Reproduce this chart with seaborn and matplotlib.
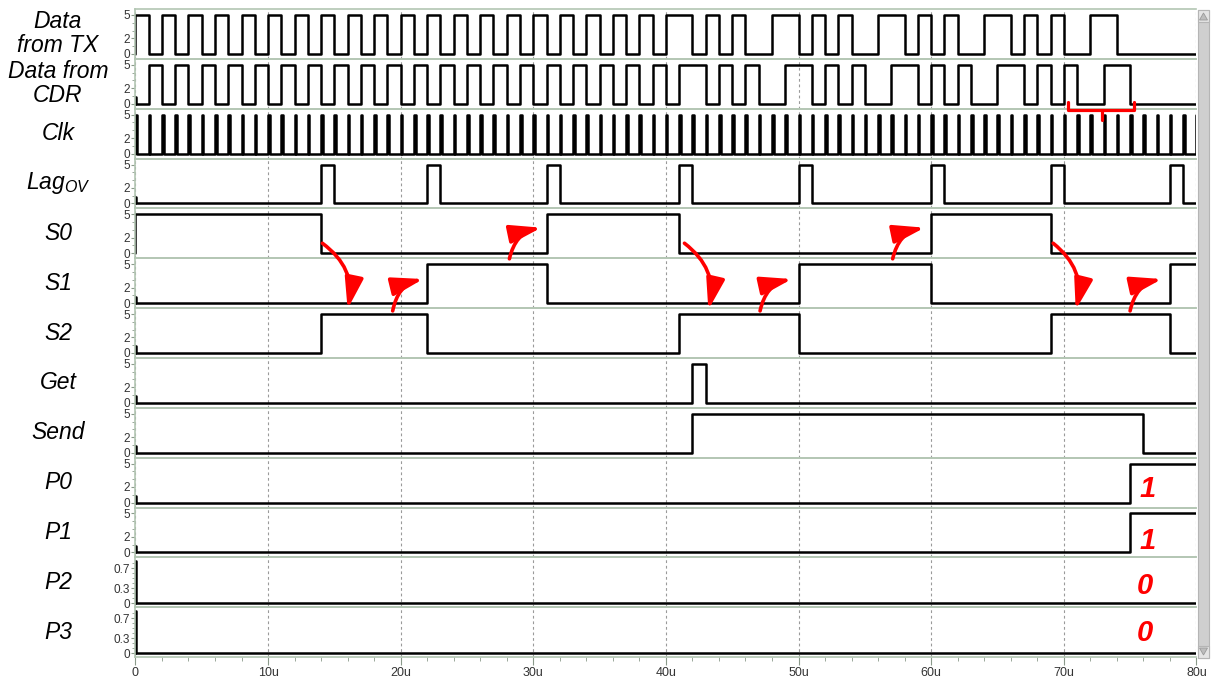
import matplotlib
matplotlib.use("Agg")
import matplotlib.pyplot as plt
import seaborn as sns
from matplotlib.patches import FancyArrowPatch, Rectangle, Polygon
from matplotlib.lines import Line2D

sns.set_theme(style="white")
plt.rcParams["font.family"] = ["Liberation Sans", "DejaVu Sans"]
plt.rcParams["mathtext.fontset"] = "custom"
plt.rcParams["mathtext.rm"] = "Liberation Sans"
plt.rcParams["mathtext.it"] = "Liberation Sans:italic"

# ---------------------------------------------------------------- data
T_END = 80.0          # simulation length (us)
HIGH = 5.0            # logic high level (V)
SPIKE = 0.85          # start-up glitch level (V)

row_labels = ["Data\nfrom TX", "Data from\nCDR", "Clk", "Lag$_{OV}$", "S0", "S1",
              "S2", "Get", "Send", "P0", "P1", "P2", "P3"]

# serial data, one bit per microsecond
tx_bits = [1, 0, 1, 0, 1, 0, 1, 0, 1, 0, 1, 0, 1, 0, 1, 0, 1, 0, 1, 0,
           1, 0, 1, 0, 1, 0, 1, 0, 1, 0, 1, 0, 1, 0, 1, 0, 1, 0, 1, 0,
           1, 1, 0, 1, 0, 1, 0, 0, 1, 1, 0, 1, 0, 1, 0, 0,
           1, 1, 0, 1, 0, 1, 0, 0, 1, 1, 0, 1, 0, 1, 0, 0,
           1, 1, 0, 0, 0, 0, 0, 0]
cdr_bits = [0, 1, 0, 1, 0, 1, 0, 1, 0, 1, 0, 1, 0, 1, 0, 1, 0, 1, 0, 1, 0,
            1, 0, 1, 0, 1, 0, 1, 0, 1, 0, 1, 0, 1, 0, 1, 0, 1, 0, 1, 0,
            1, 1, 0, 1, 0, 1, 0, 0, 1, 1, 0, 1, 0, 1, 0, 0,
            1, 1, 0, 1, 0, 1, 0, 0, 1, 1, 0, 1, 0, 1, 0, 0,
            1, 1, 0, 0, 0, 0, 0]

# recovered clock: short pulse at every rising edge (us)
clk_rise = [0, 1, 2, 3, 4, 5, 6, 7, 8, 9, 10, 11, 12, 13, 14, 15, 16, 17, 18, 19,
            20, 21, 22, 23, 24, 25, 26, 27, 28, 29, 30, 31, 32, 33, 34, 35, 36, 37, 38, 39,
            40, 41, 42, 43, 44, 45, 46, 47, 48, 49, 50, 51, 52, 53, 54, 55, 56, 57, 58, 59,
            60, 61, 62, 63, 64, 65, 66, 67, 68, 69, 70, 71, 72, 73, 74, 75, 76, 77, 78, 79, 80]
CLK_W = 0.12

# control signals: times (us) at which the level changes, and the new level (V)
lag_t = [0, 0.05, 14, 15, 22, 23, 31, 32, 41, 42, 50, 51, 60, 61, 69, 70, 78, 79]
lag_v = [0.85, 0, 5, 0, 5, 0, 5, 0, 5, 0, 5, 0, 5, 0, 5, 0, 5, 0]
s0_t = [0, 14, 31, 41, 60, 69]
s0_v = [5, 0, 5, 0, 5, 0]
s1_t = [0, 0.05, 22, 31, 50, 60, 78]
s1_v = [0.85, 0, 5, 0, 5, 0, 5]
s2_t = [0, 0.05, 14, 22, 41, 50, 69, 78]
s2_v = [0.85, 0, 5, 0, 5, 0, 5, 0]
get_t = [0, 0.05, 42, 43]
get_v = [0.85, 0, 5, 0]
send_t = [0, 0.05, 42, 76]
send_v = [0.85, 0, 5, 0]
p0_t = [0, 0.05, 75]
p0_v = [0.85, 0, 5]
p1_t = [0, 0.05, 75]
p1_v = [0.85, 0, 5]
p2_t = [0, 0.05]
p2_v = [0.85, 0]
p3_t = [0, 0.05]
p3_v = [0.85, 0]

# decoded output bits written next to P0..P3
out_bits = ["1", "1", "0", "0"]
out_bit_t = [76.3, 76.3, 76.1, 76.1]
out_bit_y = [0.37, 0.33, 0.43, 0.48]

# state-transition arrows (time, level on the S1 row)
arrow_t0 = [14.1, 19.4, 28.2, 41.4, 47.1, 57.1, 69.2, 75.0]
arrow_v0 = [7.7, -1.0, 5.7, 7.7, -1.0, 5.7, 7.7, -1.0]
arrow_t1 = [16.0, 21.7, 30.6, 43.2, 49.5, 59.5, 70.9, 77.4]
arrow_v1 = [-0.75, 3.1, 9.7, -0.85, 3.1, 9.7, -0.85, 3.1]

# bracket marking the last recovered word on the CDR row
bracket_t = [70.35, 75.26]
bracket_mid = 72.87
bracket_v = [0.26, -0.81, -2.09]


def bits_wave(bits, spike=False):
    t, v = [0.0], [0.0]
    if spike:
        t += [0.0, 0.05]
        v += [SPIKE, 0.0]
    for i, b in enumerate(bits):
        if spike and i == 0:
            continue
        t.append(float(i))
        v.append(b * HIGH)
    t.append(T_END)
    v.append(v[-1])
    return t, v


def edge_wave(times, levels):
    t = [0.0] + list(times) + [T_END]
    v = [0.0] + list(levels) + [levels[-1]]
    return t, v


def clock_wave(rises, width):
    t, v = [0.0], [0.0]
    for r in rises:
        t += [r, r + width]
        v += [HIGH, 0.0]
    return t, v


waves = [
    bits_wave(tx_bits),
    bits_wave(cdr_bits, spike=True),
    clock_wave(clk_rise, CLK_W),
    edge_wave(lag_t, lag_v),
    edge_wave(s0_t, s0_v),
    edge_wave(s1_t, s1_v),
    edge_wave(s2_t, s2_v),
    edge_wave(get_t, get_v),
    edge_wave(send_t, send_v),
    edge_wave(p0_t, p0_v),
    edge_wave(p1_t, p1_v),
    edge_wave(p2_t, p2_v),
    edge_wave(p3_t, p3_v),
]
small_scale = [False] * 11 + [True, True]

# ---------------------------------------------------------------- layout
W, H = 1211, 680
X0, X1 = 135.4, 1196.4
Y_TOP, ROW_H = 9.0, 49.85
FRAME = "#b3c6b3"
GRID = "#9a9a9a"

fig = plt.figure(figsize=(W / 100, H / 100), dpi=100)
fig.patch.set_facecolor("white")

axes = []
for i, ((t, v), lab) in enumerate(zip(waves, row_labels)):
    top = Y_TOP + i * ROW_H
    ax = fig.add_axes([X0 / W, 1 - (top + ROW_H) / H, (X1 - X0) / W, ROW_H / H],
                      sharex=axes[0] if axes else None)
    ax.set_facecolor("none")
    sns.lineplot(x=t, y=v, ax=ax, color="black", lw=1.8, sort=False,
                 estimator=None, drawstyle="steps-post")
    ax.set_xlim(0, T_END)
    if small_scale[i]:
        ax.set_ylim(-0.08, 0.92)
        ax.set_yticks([0, 0.3, 0.7])
        ax.set_yticklabels(["0", "0.3", "0.7"])
        ax.set_yticks([0.1, 0.2, 0.4, 0.5, 0.6, 0.8], minor=True)
    else:
        ax.set_ylim(-0.64, 5.77)
        ax.set_yticks([0, 2, 5])
        ax.set_yticklabels(["0", "2", "5"])
        ax.set_yticks([1, 3, 4], minor=True)
    ax.set_xticks(range(0, 81, 10))
    ax.set_xticks(range(0, 81, 2), minor=True)
    ax.grid(False)
    ax.grid(axis="x", which="major", color=GRID, ls=(0, (2.5, 2.5)), lw=0.8)
    ax.set_axisbelow(True)
    last = i == len(waves) - 1
    ax.tick_params(axis="y", which="major", direction="out", length=3, width=0.8,
                   color="#8a9a8a", labelsize=8.5, labelcolor="#333333", pad=1, left=True)
    ax.tick_params(axis="y", which="minor", direction="out", length=2, width=0.6,
                   color="#8a9a8a", left=True)
    ax.tick_params(axis="x", which="major", direction="out", length=6, width=0.8,
                   color="#8a9a8a", bottom=last, labelbottom=last, labelsize=9,
                   labelcolor="#333333", pad=1.5)
    ax.tick_params(axis="x", which="minor", direction="out", length=3, width=0.6,
                   color="#8a9a8a", bottom=last)
    for side in ("top", "bottom", "left"):
        ax.spines[side].set_color(FRAME)
        ax.spines[side].set_linewidth(1.2)
    ax.spines["right"].set_visible(False)
    ax.set_xlabel("")
    ax.set_ylabel("")
    ax.text(-0.073, 0.5, lab, transform=ax.transAxes, ha="center", va="center",
            fontsize=16.5, style="italic", color="black", linespacing=1.05)
    axes.append(ax)

axes[-1].set_xticklabels(["0", "10u", "20u", "30u", "40u", "50u", "60u", "70u", "80u"])

# decoded output bits
for ax, txt, tx, ty in zip(axes[9:], out_bits, out_bit_t, out_bit_y):
    ax.text(tx, ty, txt, transform=ax.get_xaxis_transform(), ha="center", va="center",
            fontsize=21, fontweight="bold", style="italic", color="red")

# state-transition arrows
ax_s1 = axes[5]
for ta, va, tb, vb in zip(arrow_t0, arrow_v0, arrow_t1, arrow_v1):
    arr = FancyArrowPatch((ta, va), (tb, vb), transform=ax_s1.transData,
                          connectionstyle="arc3,rad=-0.32",
                          arrowstyle="-|>,head_length=1.35,head_width=0.4",
                          mutation_scale=14, color="red", lw=2.6,
                          shrinkA=0, shrinkB=0, zorder=10)
    fig.add_artist(arr)

# bracket on the CDR row
ax_cdr = axes[1]
bx = [bracket_t[0], bracket_t[0], bracket_t[1], bracket_t[1]]
by = [bracket_v[0], bracket_v[1], bracket_v[1], bracket_v[0]]
fig.add_artist(Line2D(bx, by, transform=ax_cdr.transData, color="red", lw=2.3,
                      solid_joinstyle="round", solid_capstyle="round", zorder=10))
fig.add_artist(Line2D([bracket_mid, bracket_mid], [bracket_v[1], bracket_v[2]],
                      transform=ax_cdr.transData, color="red", lw=2.3,
                      solid_capstyle="round", zorder=10))


# viewer scrollbar along the right edge
def fig_xy(x, y):
    return (x / W, 1 - y / H)


sb = Rectangle(fig_xy(1198, 658), 11 / W, 648 / H, transform=fig.transFigure,
               facecolor="#cfcfcf", edgecolor="#b5b5b5", lw=0.8, zorder=5)
fig.add_artist(sb)
for yb in (10, 646):
    fig.add_artist(Rectangle(fig_xy(1198, yb + 12), 11 / W, 12 / H,
                             transform=fig.transFigure, facecolor="#e4e4e4",
                             edgecolor="#b5b5b5", lw=0.8, zorder=6))
fig.add_artist(Polygon([fig_xy(1199.5, 20), fig_xy(1207.5, 20), fig_xy(1203.5, 13)],
                       closed=True, transform=fig.transFigure,
                       facecolor="#bdbdbd", edgecolor="#9a9a9a", lw=0.6, zorder=7))
fig.add_artist(Polygon([fig_xy(1199.5, 648), fig_xy(1207.5, 648), fig_xy(1203.5, 655)],
                       closed=True, transform=fig.transFigure,
                       facecolor="#bdbdbd", edgecolor="#9a9a9a", lw=0.6, zorder=7))

fig.savefig("out.png", dpi=100, facecolor="white")
